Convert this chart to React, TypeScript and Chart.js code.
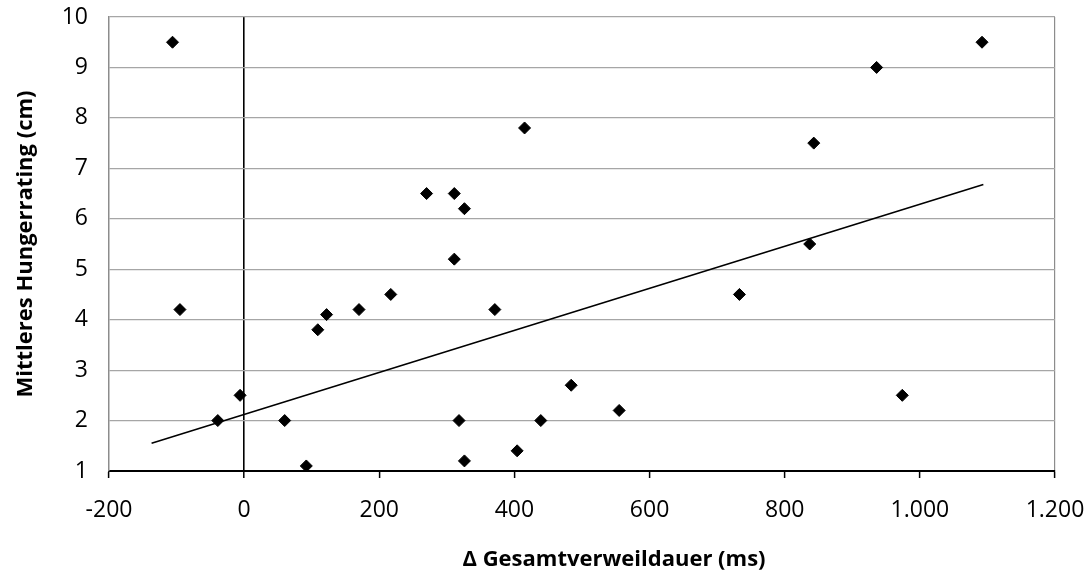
import React, { useEffect, useRef } from 'react';
import { Chart, registerables } from 'chart.js';

Chart.register(...registerables);

// Δ Gesamtverweildauer (ms) per participant
const deltaDwellMs = [-106, -95, -39, -6, 60, 92, 109, 122, 170, 217, 270, 311, 311, 318, 326, 326, 371, 404, 415, 439, 484, 555, 733, 837, 843, 936, 974, 1092];
// Mittleres Hungerrating (cm)
const hungerRating = [9.5, 4.2, 2.0, 2.5, 2.0, 1.1, 3.8, 4.1, 4.2, 4.5, 6.5, 6.5, 5.2, 2.0, 6.2, 1.2, 4.2, 1.4, 7.8, 2.0, 2.7, 2.2, 4.5, 5.5, 7.5, 9.0, 2.5, 9.5];
// Linear trend line end points
const trendX = [-137, 1094];
const trendY = [1.55, 6.68];

const xTickValues = [-200, 0, 200, 400, 600, 800, 1000, 1200];
const xTickLabels = ['-200', '0', '200', '400', '600', '800', '1.000', '1.200'];
const yTickValues = [1, 2, 3, 4, 5, 6, 7, 8, 9, 10];
const yTickLabels = ['1', '2', '3', '4', '5', '6', '7', '8', '9', '10'];

const xTitle = 'Δ Gesamtverweildauer (ms)';
const yTitle = 'Mittleres Hungerrating (cm)';

const FONT = "'Open Sans', 'Liberation Sans', sans-serif";

// Draws the x-axis title slightly right of the plot centre, as in the original
const xTitlePlugin = {
  id: 'xTitleOffset',
  afterDraw(chart: any) {
    const { ctx, chartArea } = chart;
    ctx.save();
    ctx.font = `bold 22px ${FONT}`;
    ctx.fillStyle = '#000000';
    ctx.textAlign = 'center';
    ctx.textBaseline = 'middle';
    ctx.fillText(xTitle, (chartArea.left + chartArea.right) / 2 + 32, chartArea.bottom + 89);
    ctx.restore();
  },
};

export default function App() {
  const canvasRef = useRef<HTMLCanvasElement | null>(null);

  useEffect(() => {
    const canvas = canvasRef.current;
    if (!canvas) return;
    const chart = new Chart(canvas, {
      type: 'scatter',
      data: {
        datasets: [
          {
            label: 'Trend',
            data: trendX.map((x, i) => ({ x, y: trendY[i] })),
            showLine: true,
            borderColor: '#000000',
            borderWidth: 1.6,
            pointRadius: 0,
            pointHoverRadius: 0,
            fill: false,
          },
          {
            label: 'Hungerrating',
            data: deltaDwellMs.map((x, i) => ({ x, y: hungerRating[i] })),
            pointStyle: 'rectRot',
            pointRadius: 6,
            pointBorderWidth: 1,
            pointBackgroundColor: '#000000',
            pointBorderColor: '#000000',
            backgroundColor: '#000000',
            borderColor: '#000000',
            showLine: false,
          },
        ],
      },
      plugins: [xTitlePlugin],
      options: {
        responsive: false,
        animation: false,
        layout: { padding: { left: 0, top: 17, right: 36, bottom: 0 } },
        plugins: {
          legend: { display: false },
          tooltip: { enabled: false },
        },
        scales: {
          x: {
            type: 'linear',
            position: 'bottom',
            min: -200,
            max: 1200,
            afterBuildTicks: (s: any) => {
              s.ticks = xTickValues.map((v) => ({ value: v }));
            },
            afterFit: (s: any) => {
              s.height = 101;
              s.paddingLeft = 0;
              s.paddingRight = 0;
              s.paddingTop = 0;
              s.paddingBottom = 0;
            },
            ticks: {
              autoSkip: false,
              maxRotation: 0,
              minRotation: 0,
              padding: 19,
              color: '#000000',
              font: { family: FONT, size: 23 },
              callback: (v: any) => xTickLabels[xTickValues.indexOf(Number(v))] ?? '',
            },
            grid: {
              drawOnChartArea: true,
              drawTicks: true,
              tickLength: 7,
              tickColor: '#000000',
              tickWidth: 1.5,
              color: (ctx: any) => {
                const v = ctx.tick ? ctx.tick.value : null;
                if (v === 0) return '#000000';
                if (v === 1200) return '#8c8c8c';
                return 'rgba(0,0,0,0)';
              },
              lineWidth: (ctx: any) => (ctx.tick && ctx.tick.value === 0 ? 1.6 : 1.2),
            },
            border: { display: true, color: '#000000', width: 2 },
            title: { display: false },
          },
          y: {
            type: 'linear',
            position: 'left',
            min: 1,
            max: 10,
            afterBuildTicks: (s: any) => {
              s.ticks = yTickValues.map((v) => ({ value: v }));
            },
            afterFit: (s: any) => {
              s.width = 109;
              s.paddingLeft = 0;
              s.paddingRight = 0;
              s.paddingTop = 0;
              s.paddingBottom = 0;
            },
            ticks: {
              padding: 21,
              color: '#000000',
              font: { family: FONT, size: 23 },
              callback: (v: any) => yTickLabels[yTickValues.indexOf(Number(v))] ?? '',
            },
            grid: {
              drawTicks: false,
              color: (ctx: any) => (ctx.tick && ctx.tick.value === 1 ? 'rgba(0,0,0,0)' : '#a6a6a6'),
              lineWidth: 1.2,
            },
            border: { display: true, color: '#8c8c8c', width: 1.5 },
            title: {
              display: true,
              text: yTitle,
              color: '#000000',
              font: { family: FONT, size: 22, weight: 'bold' },
              padding: { top: 13, bottom: 0 },
            },
          },
        },
      },
    });
    return () => {
      chart.destroy();
    };
  }, []);

  return (
    <div style={{ position: 'fixed', left: 0, top: 0, width: 1091, height: 572, background: '#ffffff' }}>
      <canvas ref={canvasRef} width={1091} height={572} style={{ display: 'block' }} />
    </div>
  );
}
